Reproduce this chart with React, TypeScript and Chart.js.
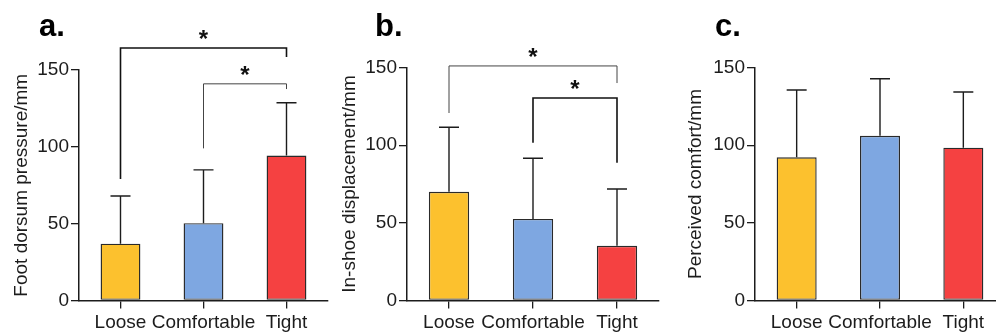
import React, { useEffect, useRef } from "react";
import { Chart, registerables } from "chart.js";

Chart.register(...registerables);

// ---------- data ----------
const categories = ["Loose", "Comfortable", "Tight"];
const yTickValues = [0, 50, 100, 150];

const dorsumMeans = [37, 50.3, 94.3];
const dorsumUpper = [68, 85, 128.7];
// [fromIndex, toIndex, lineValue, fromLegEnd, toLegEnd]
const dorsumBrackets = [
  [0, 2, 164.3, 79, 158.4],
  [1, 2, 141, 99, 137.6],
];

const displacementMeans = [70, 52.5, 35.2];
const displacementUpper = [111.5, 91.6, 71.8];
const displacementBrackets = [
  [0, 2, 151, 120.7, 140],
  [1, 2, 130.4, 101.5, 88.6],
];

const comfortMeans = [92.2, 106, 98.4];
const comfortUpper = [135.5, 142.8, 134.2];
const comfortBrackets: number[][] = [];

const sigLabel = "*";

// ---------- styles ----------
const FONT = 'Arial, "Liberation Sans", Helvetica, sans-serif';
const barColors = ["#FCC12E", "#7EA7E1", "#F54141"];
const INK = "#1c1c1c";

type PanelCfg = {
  letter: string;
  yTitle: string;
  means: number[];
  upper: number[];
  brackets: number[][];
  bracketWidths: number[];
  bracketColors: string[];
  left: number;
  width: number;
  padLeft: number;
  chartLeft: number;
  padRight: number;
  padTop: number;
  letterX: number;
};

const panels: PanelCfg[] = [
  {
    letter: "a.",
    yTitle: "Foot dorsum pressure/mm",
    means: dorsumMeans,
    upper: dorsumUpper,
    brackets: dorsumBrackets,
    bracketWidths: [1.6, 1],
    bracketColors: ["#111", "#444"],
    left: 0,
    width: 330,
    padLeft: 6,
    chartLeft: 79,
    padRight: 2,
    padTop: 70,
    letterX: 39,
  },
  {
    letter: "b.",
    yTitle: "In-shoe displacement/mm",
    means: displacementMeans,
    upper: displacementUpper,
    brackets: displacementBrackets,
    bracketWidths: [1, 1.6],
    bracketColors: ["#444", "#111"],
    left: 330,
    width: 330,
    padLeft: 4,
    chartLeft: 77,
    padRight: 1,
    padTop: 67.5,
    letterX: 45,
  },
  {
    letter: "c.",
    yTitle: "Perceived comfort/mm",
    means: comfortMeans,
    upper: comfortUpper,
    brackets: comfortBrackets,
    bracketWidths: [],
    bracketColors: [],
    left: 660,
    width: 350,
    padLeft: 20,
    chartLeft: 95,
    padRight: 5,
    padTop: 67.5,
    letterX: 55,
  },
];

function makeOverlay(p: PanelCfg) {
  return {
    id: "overlay_" + p.letter,
    afterDraw(chart: any) {
      const ctx = chart.ctx;
      const xs = chart.scales.x;
      const ys = chart.scales.y;
      ctx.save();
      // error bars (upper only)
      ctx.strokeStyle = INK;
      ctx.lineWidth = 1.4;
      p.means.forEach((m, i) => {
        const x = xs.getPixelForValue(i);
        const y0 = ys.getPixelForValue(m);
        const y1 = ys.getPixelForValue(p.upper[i]);
        ctx.beginPath();
        ctx.moveTo(x, y0);
        ctx.lineTo(x, y1);
        ctx.moveTo(x - 10, y1);
        ctx.lineTo(x + 10, y1);
        ctx.stroke();
      });
      // significance brackets
      p.brackets.forEach((b, k) => {
        const [from, to, v, fromEnd, toEnd] = b;
        const xa = xs.getPixelForValue(from);
        const xb = xs.getPixelForValue(to);
        const yl = ys.getPixelForValue(v);
        ctx.strokeStyle = p.bracketColors[k];
        ctx.lineWidth = p.bracketWidths[k];
        ctx.beginPath();
        ctx.moveTo(xa, ys.getPixelForValue(fromEnd));
        ctx.lineTo(xa, yl);
        ctx.lineTo(xb, yl);
        ctx.lineTo(xb, ys.getPixelForValue(toEnd));
        ctx.stroke();
        ctx.fillStyle = "#111";
        ctx.font = "bold 24px " + FONT;
        ctx.textAlign = "center";
        ctx.textBaseline = "alphabetic";
        ctx.fillText(sigLabel, (xa + xb) / 2, yl - 1);
      });
      // panel letter
      ctx.fillStyle = "#000";
      ctx.font = "bold 31px " + FONT;
      ctx.textAlign = "left";
      ctx.textBaseline = "alphabetic";
      ctx.fillText(p.letter, p.letterX, 36);
      ctx.restore();
    },
  };
}

function Panel({ p }: { p: PanelCfg }) {
  const ref = useRef<HTMLCanvasElement | null>(null);
  useEffect(() => {
    if (!ref.current) return;
    const chart = new Chart(ref.current, {
      type: "bar",
      data: {
        labels: categories,
        datasets: [
          {
            data: p.means,
            backgroundColor: barColors,
            borderColor: "#2a2a2a",
            borderWidth: 1.4,
            borderSkipped: false,
            categoryPercentage: 1,
            barPercentage: 0.48,
          },
        ],
      },
      options: {
        responsive: false,
        devicePixelRatio: 1,
        animation: false,
        events: [],
        layout: {
          padding: { top: p.padTop, left: p.padLeft, right: p.padRight, bottom: 0 },
        },
        plugins: {
          legend: { display: false },
          tooltip: { enabled: false },
          title: { display: false },
        },
        scales: {
          x: {
            type: "category",
            offset: true,
            afterFit: (s: any) => {
              s.height = 32.5;
            },
            grid: {
              display: true,
              drawOnChartArea: false,
              drawTicks: true,
              tickLength: 8,
              offset: false,
              color: INK,
              lineWidth: 1.3,
            },
            border: { display: true, color: INK, width: 1.5 },
            ticks: {
              color: INK,
              font: { family: FONT, size: 19 },
              maxRotation: 0,
              autoSkip: false,
              padding: 3,
            },
          },
          y: {
            min: 0,
            max: 150,
            afterFit: (s: any) => {
              s.width = p.chartLeft - p.padLeft;
            },
            afterBuildTicks: (s: any) => {
              s.ticks = yTickValues.map((v) => ({ value: v }));
            },
            grid: {
              display: true,
              drawOnChartArea: false,
              drawTicks: true,
              tickLength: 8,
              color: INK,
              lineWidth: 1.3,
            },
            border: { display: true, color: INK, width: 1.5 },
            ticks: {
              color: INK,
              font: { family: FONT, size: 19 },
              padding: 2,
            },
            title: {
              display: true,
              text: p.yTitle,
              color: INK,
              font: { family: FONT, size: 19 },
              padding: { top: 4, bottom: 4 },
            },
          },
        },
      },
      plugins: [makeOverlay(p)],
    } as any);
    return () => chart.destroy();
  }, [p]);
  return (
    <canvas
      ref={ref}
      width={p.width}
      height={333}
      style={{ position: "absolute", left: p.left, top: 0, width: p.width, height: 333 }}
    />
  );
}

export default function App() {
  return (
    <div
      style={{
        position: "fixed",
        left: 0,
        top: 0,
        width: 996,
        height: 333,
        overflow: "hidden",
        background: "#fff",
      }}
    >
      {panels.map((p) => (
        <Panel key={p.letter} p={p} />
      ))}
    </div>
  );
}
